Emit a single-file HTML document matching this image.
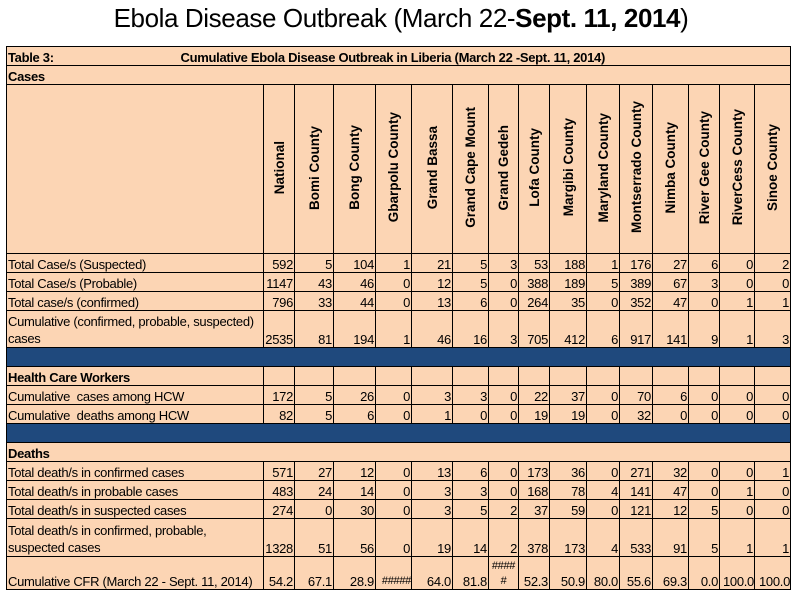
<!DOCTYPE html>
<html><head><meta charset="utf-8"><style>
body{margin:0;background:#fff;width:802px;height:595px;overflow:hidden;font-family:"Liberation Sans",sans-serif;}
.title{position:absolute;top:3px;left:0;width:802px;text-align:center;font-size:26px;letter-spacing:-0.4px;color:#000;}
table{position:absolute;left:6px;top:46px;border-collapse:collapse;table-layout:fixed;width:785px;background:#FCD5B4;font-size:13px;letter-spacing:-0.3px;}
td{border:1px solid #000;padding:0 1px;height:18px;line-height:15px;text-align:right;vertical-align:bottom;white-space:nowrap;overflow:hidden;}
td.l{text-align:left;}
tr.blue td{background:#1F497D;}
.v{writing-mode:vertical-rl;transform:rotate(180deg);font-weight:bold;display:inline-block;font-size:13.5px;letter-spacing:0;}
td.h{text-align:center;vertical-align:middle;}
b{font-weight:bold;}
</style></head><body>
<div class="title">Ebola Disease Outbreak (March 22-<b>Sept. 11, 2014</b>)</div>
<table>
<colgroup><col style="width:257px"><col style="width:31px"><col style="width:39px"><col style="width:42px"><col style="width:36px"><col style="width:41px"><col style="width:36px"><col style="width:30px"><col style="width:31px"><col style="width:37px"><col style="width:33px"><col style="width:33px"><col style="width:36px"><col style="width:31px"><col style="width:35px"><col style="width:36px"></colgroup>
<tr><td class="l" colspan="16"><b>Table 3:</b><b style="position:absolute;left:174px;">Cumulative Ebola Disease Outbreak in Liberia (March 22 -Sept. 11, 2014)</b></td></tr>
<tr><td class="l" colspan="16"><b>Cases</b></td></tr>
<tr style="height:169px"><td></td>
<td class="h"><span class="v">National</span></td><td class="h"><span class="v">Bomi County</span></td><td class="h"><span class="v">Bong County</span></td><td class="h"><span class="v">Gbarpolu County</span></td><td class="h"><span class="v">Grand Bassa</span></td><td class="h"><span class="v">Grand Cape Mount</span></td><td class="h"><span class="v">Grand Gedeh</span></td><td class="h"><span class="v">Lofa County</span></td><td class="h"><span class="v">Margibi County</span></td><td class="h"><span class="v">Maryland County</span></td><td class="h"><span class="v">Montserrado County</span></td><td class="h"><span class="v">Nimba County</span></td><td class="h"><span class="v">River Gee County</span></td><td class="h"><span class="v">RiverCess County</span></td><td class="h"><span class="v">Sinoe County</span></td></tr>
<tr><td class="l">Total Case/s (Suspected)</td><td>592</td><td>5</td><td>104</td><td>1</td><td>21</td><td>5</td><td>3</td><td>53</td><td>188</td><td>1</td><td>176</td><td>27</td><td>6</td><td>0</td><td>2</td></tr>
<tr><td class="l">Total Case/s (Probable)</td><td>1147</td><td>43</td><td>46</td><td>0</td><td>12</td><td>5</td><td>0</td><td>388</td><td>189</td><td>5</td><td>389</td><td>67</td><td>3</td><td>0</td><td>0</td></tr>
<tr><td class="l">Total case/s (confirmed)</td><td>796</td><td>33</td><td>44</td><td>0</td><td>13</td><td>6</td><td>0</td><td>264</td><td>35</td><td>0</td><td>352</td><td>47</td><td>0</td><td>1</td><td>1</td></tr>
<tr style="height:37px"><td class="l" style="line-height:17px">Cumulative (confirmed, probable, suspected)<br>cases</td><td>2535</td><td>81</td><td>194</td><td>1</td><td>46</td><td>16</td><td>3</td><td>705</td><td>412</td><td>6</td><td>917</td><td>141</td><td>9</td><td>1</td><td>3</td></tr>
<tr class="blue"><td colspan="16"></td></tr>
<tr><td class="l"><b>Health Care Workers</b></td><td></td><td></td><td></td><td></td><td></td><td></td><td></td><td></td><td></td><td></td><td></td><td></td><td></td><td></td><td></td></tr>
<tr><td class="l">Cumulative&nbsp; cases among HCW</td><td>172</td><td>5</td><td>26</td><td>0</td><td>3</td><td>3</td><td>0</td><td>22</td><td>37</td><td>0</td><td>70</td><td>6</td><td>0</td><td>0</td><td>0</td></tr>
<tr><td class="l">Cumulative&nbsp; deaths among HCW</td><td>82</td><td>5</td><td>6</td><td>0</td><td>1</td><td>0</td><td>0</td><td>19</td><td>19</td><td>0</td><td>32</td><td>0</td><td>0</td><td>0</td><td>0</td></tr>
<tr class="blue"><td colspan="16"></td></tr>
<tr><td class="l" colspan="16"><b>Deaths</b></td></tr>
<tr><td class="l">Total death/s in confirmed cases</td><td>571</td><td>27</td><td>12</td><td>0</td><td>13</td><td>6</td><td>0</td><td>173</td><td>36</td><td>0</td><td>271</td><td>32</td><td>0</td><td>0</td><td>1</td></tr>
<tr><td class="l">Total death/s in probable cases</td><td>483</td><td>24</td><td>14</td><td>0</td><td>3</td><td>3</td><td>0</td><td>168</td><td>78</td><td>4</td><td>141</td><td>47</td><td>0</td><td>1</td><td>0</td></tr>
<tr><td class="l">Total death/s in suspected cases</td><td>274</td><td>0</td><td>30</td><td>0</td><td>3</td><td>5</td><td>2</td><td>37</td><td>59</td><td>0</td><td>121</td><td>12</td><td>5</td><td>0</td><td>0</td></tr>
<tr style="height:38px"><td class="l" style="line-height:17px">Total death/s in confirmed, probable,<br>suspected cases</td><td>1328</td><td>51</td><td>56</td><td>0</td><td>19</td><td>14</td><td>2</td><td>378</td><td>173</td><td>4</td><td>533</td><td>91</td><td>5</td><td>1</td><td>1</td></tr>
<tr style="height:33px"><td class="l">Cumulative CFR (March 22 - Sept. 11, 2014)</td><td>54.2</td><td>67.1</td><td>28.9</td><td style="padding:0;font-size:11px">#####</td><td>64.0</td><td>81.8</td><td style="text-align:center;line-height:15px;font-size:11px">####<br>#</td><td>52.3</td><td>50.9</td><td>80.0</td><td>55.6</td><td>69.3</td><td>0.0</td><td style="padding:0">100.0</td><td style="padding:0">100.0</td></tr>
</table>
</body></html>
